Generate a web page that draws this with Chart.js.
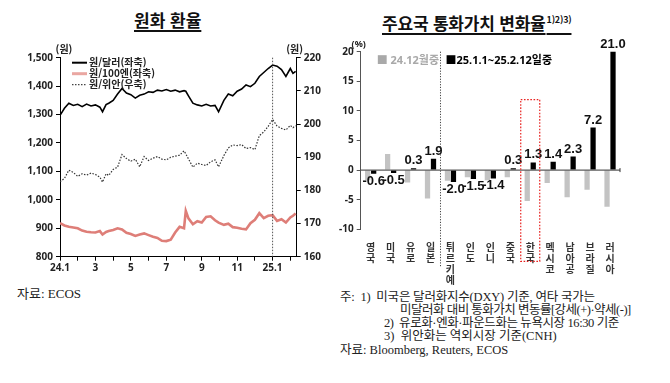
<!DOCTYPE html>
<html lang="ko">
<head>
<meta charset="utf-8">
<script src="https://cdn.jsdelivr.net/npm/chart.js@4.4.1/dist/chart.umd.min.js"></script>
<style>
  html, body { margin: 0; padding: 0; background: #fff; }
  body { width: 670px; height: 383px; position: relative; overflow: hidden;
         font-family: "Noto Sans CJK KR", "Noto Sans", sans-serif; color: #111; }
  .ttl { position: absolute; top: 9px; font-weight: 700; font-size: 17px; line-height: 22px;
         text-decoration: underline; text-underline-offset: 3px; text-decoration-thickness: 1.5px;
         white-space: nowrap; }
  .ttl sup { font-size: 9px; text-decoration: none; vertical-align: 7px; margin-left: 1px; }
  canvas { position: absolute; }
  .note { position: absolute; font-family: "Liberation Serif", "Noto Sans CJK KR", serif;
          font-size: 12.5px; line-height: 13px; color: #222; white-space: nowrap; }
</style>
</head>
<body>
<div class="ttl" style="left:134px">원화 환율</div>
<div class="ttl" style="left:382px;letter-spacing:-0.2px">주요국 통화가치 변화율<sup>1)2)3)</sup></div>

<canvas id="fx-left" width="330" height="280" style="left:0;top:0"></canvas>
<canvas id="fx-right" width="340" height="285" style="left:330px;top:0"></canvas>

<div class="note" style="left:17px;top:287px;font-size:13px">자료: ECOS</div>
<div class="note" style="left:340px;top:291px;letter-spacing:-0.2px">주:&nbsp; 1)&nbsp; 미국은 달러화지수(DXY) 기준, 여타 국가는</div>
<div class="note" style="left:400px;top:304px;letter-spacing:-0.5px">미달러화 대비 통화가치 변동률[강세(+)·약세(-)]</div>
<div class="note" style="left:384px;top:317px;letter-spacing:-0.4px">2)&nbsp; 유로화·엔화·파운드화는 뉴욕시장 16:30 기준</div>
<div class="note" style="left:384px;top:330px">3)&nbsp; 위안화는 역외시장 기준(CNH)</div>
<div class="note" style="left:340px;top:344px">자료: Bloomberg, Reuters, ECOS</div>

<script>
/* ── 원화 환율 (months since 24.1) ── */
const months = [0, 0.25, 0.5, 0.75, 1, 1.25, 1.5, 1.75, 2, 2.25, 2.4, 2.6, 2.75, 3, 3.25, 3.5, 3.75,
  4, 4.25, 4.5, 4.75, 5, 5.25, 5.5, 5.75, 6, 6.25, 6.5, 6.75, 7, 7.1, 7.25, 7.5, 7.75, 8, 8.25,
  8.5, 8.75, 8.95, 9.25, 9.5, 9.75, 10, 10.25, 10.5, 10.75, 11, 11.25, 11.5, 11.75, 12, 12.25,
  12.5, 12.75, 13, 13.15, 13.3];
const monthLabels = ['24.1', '', '3', '', '5', '', '7', '', '9', '', '11', '', '25.1', ''];

const krwUsd = [1297, 1322, 1340, 1332, 1336, 1328, 1337, 1330, 1334, 1326, 1310, 1335, 1340,
  1350, 1372, 1392, 1376, 1370, 1358, 1368, 1372, 1380, 1378, 1386, 1383, 1388, 1382, 1386,
  1380, 1384, 1382, 1366, 1340, 1334, 1330, 1336, 1330, 1332, 1310, 1350, 1372, 1366, 1382,
  1390, 1404, 1398, 1410, 1434, 1448, 1462, 1474, 1470, 1458, 1434, 1462, 1445, 1452];
const krwJpy = [918, 910, 905, 903, 900, 892, 888, 886, 885, 890, 878, 887, 890, 894, 900, 896,
  884, 880, 873, 878, 882, 876, 870, 866, 856, 855, 860, 885, 905, 900, 961, 935, 914, 925,
  920, 940, 942, 928, 920, 912, 916, 904, 902, 898, 896, 918, 930, 953, 936, 944, 946, 926,
  932, 920, 938, 944, 952];
const krwCny = [182.6, 183.6, 186.1, 185.4, 184.2, 185.0, 184.6, 185.2, 184.8, 184.0, 182.5,
  185.0, 184.5, 186.3, 187.0, 190.8, 189.6, 188.8, 189.4, 187.1, 190.2, 189.0, 189.7, 190.2,
  189.4, 189.2, 190.0, 190.3, 190.6, 191.9, 191.0, 189.5, 187.0, 188.2, 187.8, 187.5, 188.6,
  189.2, 187.1, 190.5, 192.8, 193.7, 193.5, 193.8, 192.6, 192.9, 192.3, 196.5, 197.6, 199.3,
  201.4, 199.4, 198.7, 198.2, 199.6, 198.9, 199.5];

/* ── 주요국 통화가치 변화율 (%) ── */
const countries = ['영국', '미국', '유로', '일본', '튀르키예', '인도', '인니', '중국', '한국',
  '멕시코', '남아공', '브라질', '러시아'];
const chgDec24 = [-1.7, 2.7, -2.1, -4.8, -1.8, -1.2, -1.7, -1.2, -5.2, -2.2, -4.6, -3.3, -6.2];
const chgYtd25 = [-0.6, -0.5, 0.3, 1.9, -2.0, -1.5, -1.4, 0.3, 1.3, 1.4, 2.3, 7.2, 21.0];

(function () {
  'use strict';

  const TICK_FONT = { family: '"Noto Sans", "Noto Sans CJK KR", sans-serif', size: 10, weight: 'bold' };
  const INK = '#222';

  const pts = arr => months.map((m, i) => ({ x: m, y: arr[i] }));

  /* ── left chart overlay: units, legend, 25.1 marker ── */
  const leftDeco = {
    id: 'leftDeco',
    afterDatasetsDraw(chart) {
      const { ctx, chartArea: a, scales } = chart;
      ctx.save();
      // dotted marker at 25.1
      const x = scales.x.getPixelForValue(12);
      ctx.strokeStyle = '#555';
      ctx.lineWidth = 1;
      ctx.setLineDash([1.5, 1.5]);
      ctx.beginPath(); ctx.moveTo(x, a.top); ctx.lineTo(x, a.bottom); ctx.stroke();
      ctx.setLineDash([]);

      ctx.font = 'bold 10px "Noto Sans CJK KR", sans-serif';
      ctx.fillStyle = INK;
      ctx.textBaseline = 'middle';
      ctx.textAlign = 'center';
      ctx.fillText('(원)', a.left + 4, a.top - 8);
      ctx.fillText('(원)', a.right - 2, a.top - 8);

      // legend
      const rows = [
        { t: '원/달러(좌축)', c: '#000', w: 2, d: [] },
        { t: '원/100엔(좌축)', c: '#eaa7a2', w: 3, d: [] },
        { t: '원/위안(우축)', c: '#444', w: 1.2, d: [1.5, 1.5] }
      ];
      ctx.textAlign = 'left';
      ctx.font = 'bold 10px "Noto Sans CJK KR", sans-serif';
      rows.forEach((r, i) => {
        const y = a.top + 5 + i * 11;
        ctx.strokeStyle = r.c; ctx.lineWidth = r.w; ctx.setLineDash(r.d);
        ctx.beginPath(); ctx.moveTo(a.left + 12, y); ctx.lineTo(a.left + 27, y); ctx.stroke();
        ctx.fillStyle = INK;
        ctx.fillText(r.t, a.left + 29, y);
      });
      ctx.restore();
    }
  };

  new Chart(document.getElementById('fx-left'), {
    type: 'line',
    data: {
      datasets: [
        { label: '원/달러(좌축)', data: pts(krwUsd), yAxisID: 'y', borderColor: '#000', borderWidth: 1.6 },
        { label: '원/100엔(좌축)', data: pts(krwJpy), yAxisID: 'y', borderColor: '#de7e78', borderWidth: 2.6 },
        { label: '', data: pts(krwJpy), yAxisID: 'y', borderColor: '#f8dcd9', borderWidth: 0.9 },
        { label: '원/위안(우축)', data: pts(krwCny), yAxisID: 'y2', borderColor: '#333',
          borderWidth: 1.2, borderDash: [1.5, 1.5] }
      ]
    },
    options: {
      responsive: false,
      devicePixelRatio: 1,
      animation: false,
      elements: { point: { radius: 0 }, line: { tension: 0 } },
      layout: { padding: { top: 57.7, left: 0, right: 0, bottom: 0 } },
      plugins: { legend: { display: false }, tooltip: { enabled: false } },
      scales: {
        x: {
          type: 'linear', min: 0, max: 13.36,
          afterBuildTicks: s => { s.ticks = monthLabels.map((_, i) => ({ value: i })); },
          afterFit: s => { s.height = 23.3; },
          grid: { drawOnChartArea: false, drawTicks: true, tickLength: 4, color: '#000' },
          border: { color: '#000', width: 1 },
          ticks: { autoSkip: false, maxRotation: 0, padding: 1, color: INK, font: TICK_FONT,
                   callback: v => monthLabels[v] ?? '' }
        },
        y: {
          position: 'left', min: 800, max: 1500,
          afterFit: s => { s.width = 60; },
          grid: { drawOnChartArea: false, tickLength: 4, color: '#000' },
          border: { color: '#000', width: 1 },
          ticks: { stepSize: 100, padding: 3, color: INK, font: TICK_FONT,
                   callback: v => v.toLocaleString('en-US') }
        },
        y2: {
          position: 'right', min: 160, max: 220,
          afterFit: s => { s.width = 33.3; },
          grid: { drawOnChartArea: false, tickLength: 4, color: '#000' },
          border: { color: '#000', width: 1 },
          ticks: { stepSize: 10, padding: 3, color: INK, font: TICK_FONT }
        }
      }
    },
    plugins: [leftDeco]
  });

  /* ── right chart overlay: zero line, values, legend, separators ── */
  const rightDeco = {
    id: 'rightDeco',
    afterDatasetsDraw(chart) {
      const { ctx, chartArea: a, scales } = chart;
      const xs = scales.x, ys = scales.y;
      ctx.save();

      // zero line
      const y0 = ys.getPixelForValue(0);
      ctx.strokeStyle = '#333'; ctx.lineWidth = 1;
      ctx.beginPath(); ctx.moveTo(a.left, y0); ctx.lineTo(a.right, y0); ctx.stroke();
      ctx.beginPath(); ctx.moveTo(a.right, y0 - 2); ctx.lineTo(a.right, y0 + 2); ctx.stroke();

      // value labels on the 25.1.1~25.2.12 bars
      ctx.font = 'bold 13px "Liberation Sans", "Noto Sans", sans-serif';
      ctx.fillStyle = '#111';
      ctx.textAlign = 'center';
      chart.getDatasetMeta(1).data.forEach((bar, i) => {
        const v = chgYtd25[i];
        const txt = v.toFixed(1);
        if (v >= 0) {
          ctx.textBaseline = 'bottom';
          ctx.fillText(txt, bar.x, Math.max(bar.y, a.top) - 1);
        } else {
          ctx.textBaseline = 'top';
          ctx.fillText(txt, bar.x, bar.y + 1);
        }
      });

      // dotted separator between 일본 | 튀르키예
      const sx = (xs.getPixelForValue(3) + xs.getPixelForValue(4)) / 2;
      ctx.strokeStyle = '#444'; ctx.setLineDash([1.2, 1.5]);
      ctx.beginPath(); ctx.moveTo(sx, a.top); ctx.lineTo(sx, a.bottom + 38); ctx.stroke();

      // red dotted box around 한국
      const kx = xs.getPixelForValue(8);
      ctx.strokeStyle = '#e8211f'; ctx.lineWidth = 1.2; ctx.setLineDash([1.6, 1.6]);
      ctx.strokeRect(kx - 9.5, ys.getPixelForValue(11.9), 19, a.bottom + 32 - ys.getPixelForValue(11.9));
      ctx.setLineDash([]);

      // legend
      ctx.textBaseline = 'middle';
      ctx.textAlign = 'left';
      ctx.font = 'bold 11px "Noto Sans", "Noto Sans CJK KR", sans-serif';
      ctx.fillStyle = '#a9a9a9';
      ctx.fillText('■ 24.12월중', a.left + 16, a.top + 9);
      ctx.fillStyle = '#000';
      ctx.fillText('■25.1.1~25.2.12일중', sx + 5, a.top + 9);

      // unit
      ctx.font = 'bold 9px "Noto Sans", sans-serif';
      ctx.fillStyle = INK;
      ctx.textAlign = 'center';
      ctx.fillText('(%)', a.left - 2, a.top - 7);
      ctx.restore();
    }
  };

  new Chart(document.getElementById('fx-right'), {
    type: 'bar',
    data: {
      labels: countries.map(c => Array.from(c)),
      datasets: [
        { label: '24.12월중', data: chgDec24, backgroundColor: '#c3c3c3' },
        { label: '25.1.1~25.2.12일중', data: chgYtd25, backgroundColor: '#000' }
      ]
    },
    options: {
      responsive: false,
      devicePixelRatio: 1,
      animation: false,
      categoryPercentage: 0.6,
      barPercentage: 0.88,
      layout: { padding: { top: 51.7, left: 0, right: 50, bottom: 0 } },
      plugins: { legend: { display: false }, tooltip: { enabled: false } },
      scales: {
        x: {
          afterFit: s => { s.height = 285 - 229.3; },
          grid: { display: false },
          border: { display: false },
          ticks: { autoSkip: false, maxRotation: 0, padding: 4, color: '#333',
                   font: { family: '"Noto Sans CJK KR", sans-serif', size: 10, weight: 'bold', lineHeight: 1.1 } }
        },
        y: {
          min: -10, max: 20,
          afterFit: s => { s.width = 30.7; },
          grid: { drawOnChartArea: false, tickLength: 4, color: '#555' },
          border: { color: '#555', width: 1 },
          ticks: { stepSize: 5, padding: 3, color: INK, font: TICK_FONT }
        }
      }
    },
    plugins: [rightDeco]
  });
})();
</script>
</body>
</html>
